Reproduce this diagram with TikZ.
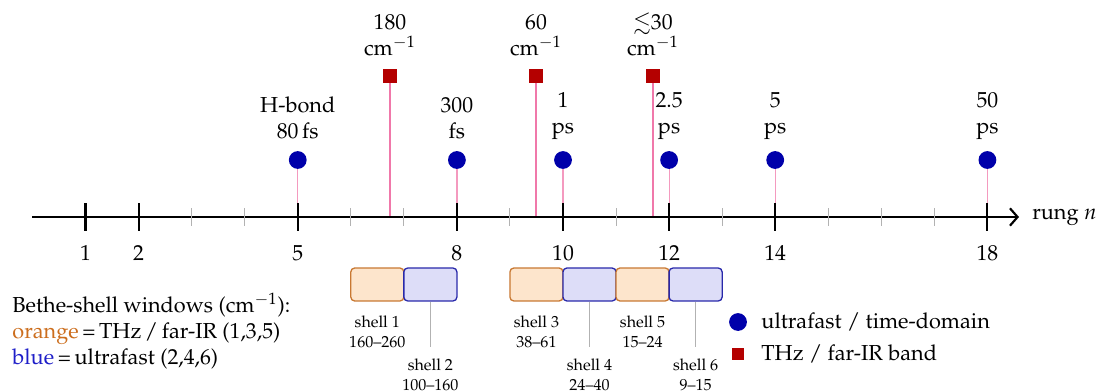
\documentclass[tikz,border=0pt]{standalone}
\usepackage[T1]{fontenc}
\usepackage{mathpazo}
\usepackage{amsmath,amssymb}
\usetikzlibrary{arrows.meta}
\definecolor{dotblue}{RGB}{0,0,170}
\definecolor{bandred}{RGB}{180,0,0}
\definecolor{stemcol}{RGB}{240,120,170}
\definecolor{orfill}{RGB}{253,229,204}
\definecolor{ordraw}{RGB}{200,120,50}
\definecolor{blfill}{RGB}{221,221,248}
\definecolor{bldraw}{RGB}{40,40,170}
\definecolor{ortext}{RGB}{204,110,30}
\definecolor{bltext}{RGB}{30,30,200}
\tikzset{
  axisline/.style={line width=1pt,-{Straight Barb[length=3.5pt,width=8pt,line width=1pt]}},
  majortick/.style={line width=1pt,black},
  minortick/.style={line width=0.5pt,black!30},
  stemline/.style={line width=0.5pt,stemcol},
  dotstem/.style={line width=0.55pt,stemcol!75},
  udot/.style={circle,fill=dotblue,inner sep=0pt,minimum size=8.2pt},
  rsq/.style={rectangle,fill=bandred,inner sep=0pt,minimum size=6pt},
  toplabel/.style={align=center,anchor=south,inner sep=0pt},
  shellbox/.style={rectangle,rounded corners=1.8pt,line width=0.6pt,inner sep=0pt,
    minimum width=24.45pt,minimum height=15.2pt},
  shellor/.style={shellbox,draw=ordraw,fill=orfill},
  shellbl/.style={shellbox,draw=bldraw,fill=blfill},
  shelltext/.style={align=center,font=\fontsize{7.4}{9.2}\selectfont,inner sep=0pt},
  lead/.style={line width=0.4pt,black!30},
}
\begin{document}
\begin{tikzpicture}[x=0.4608pt,y=-0.4608pt]
\useasboundingbox (0,0) rectangle (1097,391);

% rung positions along the axis
\def\rx#1{{32.5+53.05*#1}}

% ultrafast / time-domain markers
\foreach \n/\txt in {5/{H-bond\\80\,fs},8/{300\\fs},10/{1\\ps},12/{2.5\\ps},14/{5\\ps},18/{50\\ps}}{
  \node[udot] (d\n) at (\rx{\n},160) {};
  \node[toplabel] (dl\n) at ([yshift=5pt]d\n.north) {\txt};
  \coordinate (da\n) at (\rx{\n},217);
  \draw[dotstem] (d\n.south) -- (da\n);
}

% THz / far-IR bands
\foreach \k/\xx/\txt in {1/390/{180\\cm$^{-1}$},2/536/{60\\cm$^{-1}$},3/653/{$\lesssim$30\\cm$^{-1}$}}{
  \node[rsq] (s\k) at (\xx,76) {};
  \node[toplabel] (sl\k) at ([yshift=6pt]s\k.north) {\txt};
  \coordinate (sa\k) at (\xx,217);
  \draw[stemline] (s\k.south) -- (sa\k);
}

% axis
\coordinate (a0) at (32,217);
\coordinate (a1) at (1019,217);
\draw[axisline] (a0) -- (a1);
\node[anchor=west,inner sep=0pt] (rung) at (1032,217) {rung $n$};

\foreach \n in {3,4,6,7,9,11,13,15,16,17}{
  \coordinate (mt\n) at (\rx{\n},208);
  \coordinate (mb\n) at (\rx{\n},226);
  \draw[minortick] (mt\n) -- (mb\n);
}
\foreach \n in {1,2,5,8,10,12,14,18}{
  \coordinate (tt\n) at (\rx{\n},203);
  \coordinate (tb\n) at (\rx{\n},231);
  \draw[majortick] (tt\n) -- (tb\n);
  \node (tl\n) at (\rx{\n},253) {\n};
}

% Bethe-shell windows
\node[shellor] (sh1) at (\rx{6.5},284.5) {};
\node[shellbl] (sh2) at (\rx{7.5},284.5) {};
\node[shellor] (sh3) at (\rx{9.5},284.5) {};
\node[shellbl] (sh4) at (\rx{10.5},284.5) {};
\node[shellor] (sh5) at (\rx{11.5},284.5) {};
\node[shellbl] (sh6) at (\rx{12.5},284.5) {};

\node[shelltext] (st1) at (\rx{6.5},332) {shell 1\\160--260};
\node[shelltext] (st3) at (\rx{9.5},332) {shell 3\\38--61};
\node[shelltext] (st5) at (\rx{11.5},332) {shell 5\\15--24};
\node[shelltext] (st2) at (\rx{7.5},374.5) {shell 2\\100--160};
\node[shelltext] (st4) at (\rx{10.5},374.5) {shell 4\\24--40};
\node[shelltext] (st6) at (\rx{12.5},374.5) {shell 6\\9--15};

\coordinate (se2) at (\rx{7.5},347);
\coordinate (se4) at (\rx{10.5},347);
\coordinate (se6) at (\rx{12.5},347);
\draw[lead] (sh2.south) -- (se2);
\draw[lead] (sh4.south) -- (se4);
\draw[lead] (sh6.south) -- (se6);

% key to the shell colours
\node[anchor=west,align=left,inner sep=0pt] (key) at (12,331)
  {Bethe-shell windows (cm$^{-1}$):\\
   \textcolor{ortext}{orange}\,=\,THz\,/\,far-IR (1,3,5)\\
   \textcolor{bltext}{blue}\,=\,ultrafast (2,4,6)};

% legend
\node[udot] (ld) at (738,322) {};
\node[anchor=west,inner sep=0pt] (ldt) at (761,322) {ultrafast / time-domain};
\node[rsq,minimum size=5.2pt] (ls) at (738,354) {};
\node[anchor=west,inner sep=0pt] (lst) at (761,354) {THz / far-IR band};
\end{tikzpicture}
\end{document}
